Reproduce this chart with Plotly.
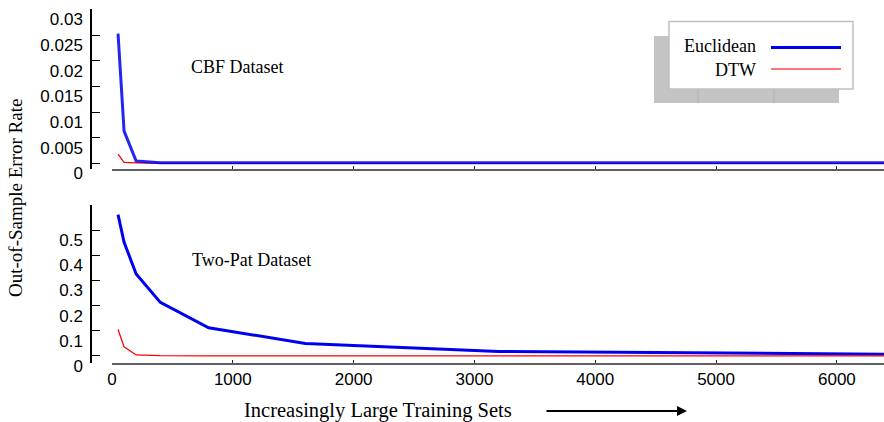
import plotly.graph_objects as go

# ---- data ----
train_sizes = [50, 100, 200, 400, 800, 1600, 3200, 6400]
cbf_euclidean = [0.0253, 0.0063, 0.00045, 0.0001, 0.0001, 0.0001, 0.0001, 0.0001]
cbf_dtw = [0.0018, 0.0002, 0.0001, 0.0, 0.0, 0.0, 0.0, 0.0]
twopat_euclidean = [0.562, 0.452, 0.326, 0.213, 0.112, 0.050, 0.018, 0.007]
twopat_dtw = [0.105, 0.036, 0.004, 0.001, 0.0, 0.0, 0.0, 0.0]

x_ticks = [0, 1000, 2000, 3000, 4000, 5000, 6000]
cbf_ticks = [0, 0.005, 0.01, 0.015, 0.02, 0.025, 0.03]
cbf_ticklabels = ["0", "0.005", "0.01", "0.015", "0.02", "0.025", "0.03"]
twopat_ticks = [0, 0.1, 0.2, 0.3, 0.4, 0.5]
twopat_ticklabels = ["0", "0.1", "0.2", "0.3", "0.4", "0.5"]

# ---- layout helpers (pixel -> paper) ----
W, H = 884, 422
ML, MR, MT, MB = 91, 0, 9, 59
PW, PH = W - ML - MR, H - MT - MB


def px(x):
    return (x - ML) / PW


def py(y):
    return (H - MB - y) / PH


BLUE = "#0000f0"
RED = "#ff0000"
SERIF = "Liberation Serif, Times New Roman, serif"
SANS = "Liberation Sans, Arial, Helvetica, sans-serif"

fig = go.Figure()

# top panel (CBF)
fig.add_trace(go.Scatter(x=train_sizes, y=cbf_dtw, mode="lines", name="DTW",
                         line=dict(color=RED, width=1.3), xaxis="x2", yaxis="y2",
                         showlegend=False))
fig.add_trace(go.Scatter(x=train_sizes, y=cbf_euclidean, mode="lines", name="Euclidean",
                         line=dict(color=BLUE, width=3), opacity=0.85, xaxis="x2", yaxis="y2",
                         showlegend=False))
# bottom panel (Two-Pat)
fig.add_trace(go.Scatter(x=train_sizes, y=twopat_euclidean, mode="lines", name="Euclidean",
                         line=dict(color=BLUE, width=3), xaxis="x", yaxis="y",
                         showlegend=False))
fig.add_trace(go.Scatter(x=train_sizes, y=twopat_dtw, mode="lines", name="DTW",
                         line=dict(color=RED, width=1.3), xaxis="x", yaxis="y",
                         showlegend=False))

x_dom = [px(112), 1]
top_dom = [py(168.5), 1]
bot_dom = [0, py(205)]

common_x = dict(range=[0, 6390], showgrid=False, zeroline=False, showline=True,
                linecolor="#606060", linewidth=2, ticks="inside", ticklen=3,
                tickcolor="#222", tickwidth=1, tickvals=x_ticks, domain=x_dom,
                automargin=False)
common_y = dict(showgrid=False, zeroline=False, showline=True, linecolor="#000",
                linewidth=1.5, ticks="inside", ticklen=8, tickcolor="#000", tickwidth=1,
                anchor="free", position=0, automargin=False,
                tickfont=dict(family=SANS, size=17, color="#000"),
                ticklabelshift=10, ticklabelstandoff=4)

fig.update_layout(
    width=W, height=H,
    margin=dict(l=ML, r=MR, t=MT, b=MB, autoexpand=False),
    paper_bgcolor="white", plot_bgcolor="white",
    showlegend=False,
    xaxis=dict(**common_x, anchor="y", showticklabels=True,
               tickfont=dict(family=SANS, size=17, color="#000")),
    xaxis2=dict(**common_x, anchor="y2", showticklabels=False),
    yaxis=dict(**common_y, domain=bot_dom, range=[-0.028, 0.6],
               tickvals=twopat_ticks, ticktext=twopat_ticklabels),
    yaxis2=dict(**common_y, domain=top_dom, range=[-0.001, 0.0301],
                tickvals=cbf_ticks, ticktext=cbf_ticklabels),
)

# legend drawn as a shadowed box
shapes = [
    dict(type="rect", xref="paper", yref="paper", x0=px(654), x1=px(839), y0=py(103), y1=py(36),
         fillcolor="#c4c4c4", line=dict(width=0), layer="above"),
    dict(type="line", xref="paper", yref="paper", x0=px(698), x1=px(698), y0=py(103), y1=py(89),
         line=dict(color="#b0b0b0", width=1), layer="above"),
    dict(type="line", xref="paper", yref="paper", x0=px(774), x1=px(774), y0=py(103), y1=py(89),
         line=dict(color="#b0b0b0", width=1), layer="above"),
    dict(type="rect", xref="paper", yref="paper", x0=px(669), x1=px(853), y0=py(89), y1=py(21.5),
         fillcolor="white", line=dict(color="#c0c0c0", width=1.5), layer="above"),
    dict(type="line", xref="paper", yref="paper", x0=px(771), x1=px(841), y0=py(47.5), y1=py(47.5),
         line=dict(color=BLUE, width=3), layer="above"),
    dict(type="line", xref="paper", yref="paper", x0=px(771), x1=px(841), y0=py(69), y1=py(69),
         line=dict(color="#ff4a4a", width=1.5), layer="above"),
]
fig.update_layout(shapes=shapes)

annotations = [
    dict(text="Euclidean", xref="paper", yref="paper", x=px(758), y=py(45.5),
         xanchor="right", yanchor="middle", showarrow=False,
         font=dict(family=SERIF, size=18, color="#000")),
    dict(text="DTW", xref="paper", yref="paper", x=px(758), y=py(70),
         xanchor="right", yanchor="middle", showarrow=False,
         font=dict(family=SERIF, size=18, color="#000")),
    dict(text="CBF Dataset", xref="paper", yref="paper", x=px(189), y=py(67),
         xanchor="left", yanchor="middle", showarrow=False,
         font=dict(family=SERIF, size=18, color="#000")),
    dict(text="Two-Pat Dataset", xref="paper", yref="paper", x=px(190), y=py(260),
         xanchor="left", yanchor="middle", showarrow=False,
         font=dict(family=SERIF, size=18, color="#000")),
    dict(text="Out-of-Sample Error Rate", xref="paper", yref="paper", x=px(15), y=py(198),
         xanchor="center", yanchor="middle", textangle=-90, showarrow=False,
         font=dict(family=SERIF, size=19, color="#000")),
    dict(text="Increasingly Large Training Sets", xref="paper", yref="paper", x=px(378), y=py(410),
         xanchor="center", yanchor="middle", showarrow=False,
         font=dict(family=SERIF, size=20.5, color="#000")),
    dict(text="", xref="paper", yref="paper", x=px(687), y=py(411),
         ax=-142, ay=0, showarrow=True, arrowhead=2, arrowsize=1, arrowwidth=2,
         arrowcolor="#000"),
]
fig.update_layout(annotations=annotations)

fig.write_html(
    "out.html",
    config={"displayModeBar": False},
    post_script="document.body.style.margin='0';document.body.style.padding='0';",
)
